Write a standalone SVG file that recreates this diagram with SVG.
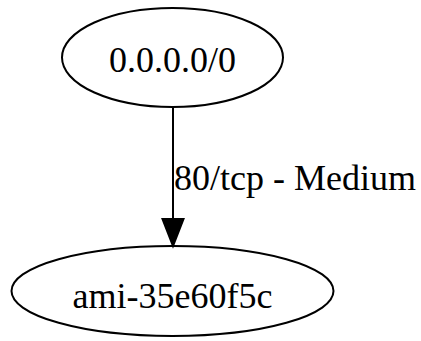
<svg xmlns="http://www.w3.org/2000/svg" width="421" height="341" viewBox="0 0 421 341">
<style>
.n{fill:none;stroke:#000;stroke-width:2}
.t{font-family:"Liberation Serif","Times New Roman",serif;font-size:36px;fill:#000}
.e{stroke:#000;stroke-width:2;fill:none}
</style>
<rect width="421" height="341" fill="#fff"/>
<g id="edges">
<path class="e" d="M173,107 L173,220"/>
<polygon points="162.5,219 183.5,219 173,246" fill="#000" stroke="#000" stroke-width="2"/>
<text class="t" x="174" y="190">80/tcp - Medium</text>
</g>
<g id="node1">
<ellipse class="n" cx="172.5" cy="57.5" rx="110.5" ry="49.5"/>
<text class="t" x="172.5" y="72" text-anchor="middle">0.0.0.0/0</text>
</g>
<g id="node2">
<ellipse class="n" cx="172.5" cy="291" rx="161" ry="45"/>
<text class="t" x="172.5" y="308" text-anchor="middle">ami-35e60f5c</text>
</g>
</svg>
